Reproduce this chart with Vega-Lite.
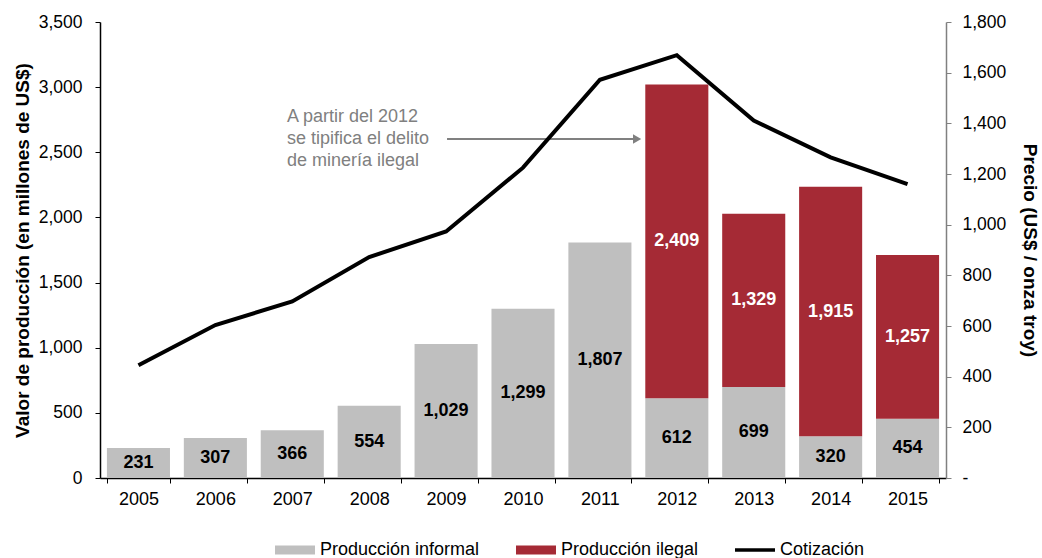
{
  "$schema": "https://vega.github.io/schema/vega-lite/v6.json",
  "width": 846,
  "height": 456,
  "autosize": "none",
  "padding": {"left": 100, "top": 22, "right": 96, "bottom": 80},
  "background": "white",
  "config": {
    "font": "Liberation Sans",
    "view": {"stroke": null},
    "axis": {"grid": false, "labelColor": "black", "titleColor": "black", "labelFont": "Liberation Sans", "titleFont": "Liberation Sans"}
  },
  "datasets": {
    "bars": [
      {"year": "2005", "tipo": "Producción informal", "valor": 231},
      {"year": "2006", "tipo": "Producción informal", "valor": 307},
      {"year": "2007", "tipo": "Producción informal", "valor": 366},
      {"year": "2008", "tipo": "Producción informal", "valor": 554},
      {"year": "2009", "tipo": "Producción informal", "valor": 1029},
      {"year": "2010", "tipo": "Producción informal", "valor": 1299},
      {"year": "2011", "tipo": "Producción informal", "valor": 1807},
      {"year": "2012", "tipo": "Producción informal", "valor": 612},
      {"year": "2012", "tipo": "Producción ilegal", "valor": 2409},
      {"year": "2013", "tipo": "Producción informal", "valor": 699},
      {"year": "2013", "tipo": "Producción ilegal", "valor": 1329},
      {"year": "2014", "tipo": "Producción informal", "valor": 320},
      {"year": "2014", "tipo": "Producción ilegal", "valor": 1915},
      {"year": "2015", "tipo": "Producción informal", "valor": 454},
      {"year": "2015", "tipo": "Producción ilegal", "valor": 1257}
    ],
    "precio": [
      {"year": "2005", "precio": 445},
      {"year": "2006", "precio": 604},
      {"year": "2007", "precio": 697},
      {"year": "2008", "precio": 872},
      {"year": "2009", "precio": 973},
      {"year": "2010", "precio": 1225},
      {"year": "2011", "precio": 1572},
      {"year": "2012", "precio": 1669},
      {"year": "2013", "precio": 1411},
      {"year": "2014", "precio": 1266},
      {"year": "2015", "precio": 1160}
    ],
    "nota": [
      {"year": "2007", "texto": "A partir del 2012\nse tipifica el delito\nde minería ilegal"}
    ]
  },
  "layer": [
    {
      "layer": [
        {
          "data": {"name": "bars"},
          "mark": {"type": "bar"},
          "encoding": {
            "x": {"field": "year", "type": "nominal", "scale": {"paddingInner": 0.18, "paddingOuter": 0.09},
              "axis": {"title": null, "labelAngle": 0, "labelFontSize": 18, "labelPadding": 7, "tickBand": "extent", "tickSize": 5, "tickColor": "black", "domainColor": "black", "domainWidth": 1.5, "tickWidth": 1}},
            "y": {"field": "valor", "type": "quantitative", "stack": "zero",
              "scale": {"domain": [0, 3500]},
              "axis": {"orient": "left", "title": "Valor de producción (en millones de US$)", "values": [0, 500, 1000, 1500, 2000, 2500, 3000, 3500], "format": ",.0f", "labelFontSize": 17.5, "titleFontSize": 19, "titleFontWeight": "bold", "tickSize": 5, "labelPadding": 13, "titlePadding": 6, "domainColor": "black", "domainWidth": 1.5, "tickColor": "black"}},
            "color": {"field": "tipo", "type": "nominal",
              "sort": ["Producción informal", "Producción ilegal"],
              "scale": {"domain": ["Producción informal", "Producción ilegal", "Cotización"], "range": ["#bfbfbf", "#a52a35", "#000000"]},
              "legend": {"title": null, "orient": "none", "direction": "horizontal", "legendX": 175, "legendY": 508,
                "labelFontSize": 18, "labelColor": "black", "symbolSize": 1600, "labelOffset": 5, "columnPadding": 36,
                "encode": {"symbols": {"update": {
                  "shape": [{"test": "datum.value === 'Cotización'", "value": "M-1,-0.09H1V0.09H-1Z"}, {"value": "M-1,-0.23H1V0.23H-1Z"}],
                  "fill": {"scale": "color", "field": "value"},
                  "strokeWidth": {"value": 0},
                  "opacity": {"value": 1}
                }}}}}
          }
        },
        {
          "data": {"name": "bars"},
          "transform": [
            {"stack": "valor", "groupby": ["year"], "sort": [{"field": "tipo", "order": "descending"}], "as": ["v0", "v1"]},
            {"calculate": "(datum.v0 + datum.v1) / 2", "as": "medio"}
          ],
          "mark": {"type": "text", "fontWeight": "bold", "fontSize": 18, "baseline": "middle", "align": "center"},
          "encoding": {
            "x": {"field": "year", "type": "nominal"},
            "y": {"field": "medio", "type": "quantitative"},
            "text": {"field": "valor", "type": "quantitative", "format": ","},
            "color": {"condition": {"test": "datum.tipo === 'Producción ilegal'", "value": "white"}, "value": "black"}
          }
        },
        {
          "data": {"name": "nota"},
          "mark": {"type": "text", "align": "left", "baseline": "middle", "fontSize": 18, "color": "#808080", "lineBreak": "\n", "lineHeight": 22},
          "encoding": {
            "x": {"field": "year", "type": "nominal", "bandPosition": 0.417},
            "y": {"datum": 2771, "type": "quantitative"},
            "text": {"field": "texto"}
          }
        },
        {
          "data": {"name": "nota"},
          "mark": {"type": "rule", "color": "#808080", "strokeWidth": 2},
          "encoding": {
            "x": {"datum": "2009", "bandPosition": 0.515},
            "x2": {"datum": "2011", "bandPosition": 1.05},
            "y": {"datum": 2602, "type": "quantitative"}
          }
        },
        {
          "data": {"name": "nota"},
          "mark": {"type": "point", "shape": "triangle-right", "filled": true, "color": "#808080", "size": 90, "opacity": 1},
          "encoding": {
            "x": {"datum": "2011", "bandPosition": 1.09},
            "y": {"datum": 2602, "type": "quantitative"}
          }
        }
      ]
    },
    {
      "data": {"name": "precio"},
      "mark": {"type": "line", "strokeWidth": 4, "color": "black"},
      "encoding": {
        "x": {"field": "year", "type": "nominal"},
        "y": {"field": "precio", "type": "quantitative",
          "scale": {"domain": [0, 1800]},
          "axis": {"orient": "right", "title": "Precio (US$ / onza troy)", "values": [0, 200, 400, 600, 800, 1000, 1200, 1400, 1600, 1800],
            "labelExpr": "datum.value === 0 ? '-' : format(datum.value, ',')",
            "labelFontSize": 17.5, "titleFontSize": 19, "titleFontWeight": "bold", "tickSize": 5, "labelPadding": 11, "titlePadding": 14,
            "domainColor": "#808080", "domainWidth": 1.5, "tickColor": "#808080"}},
        "color": {"datum": "Cotización"}
      }
    }
  ],
  "resolve": {"scale": {"y": "independent"}}
}
